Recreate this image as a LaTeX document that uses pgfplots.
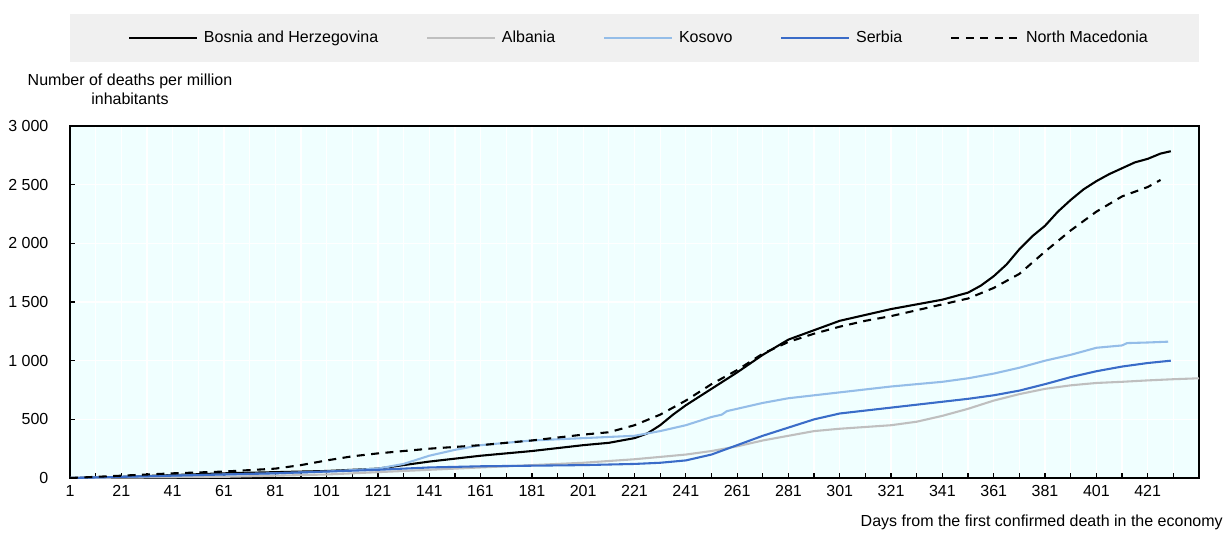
\documentclass[border=0pt]{standalone}
\usepackage{fontspec}
\setmainfont{Liberation Sans}
\usepackage{pgfplots}
\pgfplotsset{compat=1.18}

\definecolor{bgcyan}{RGB}{240,255,255}
\definecolor{legbg}{RGB}{240,240,240}
\definecolor{albgray}{RGB}{191,191,191}
\definecolor{kosblue}{RGB}{148,189,232}
\definecolor{srbblue}{RGB}{58,108,200}

\begin{document}
\begin{tikzpicture}
% grey band behind the legend
\fill[legbg] (0pt,260pt) rectangle (705.6pt,290pt);
\begin{axis}[
    scale only axis,
    width=705.6pt, height=220pt,
    xmin=1, xmax=441, ymin=0, ymax=3000,
    axis background/.style={fill=bgcyan},
    axis line style={line width=1pt},
    tick align=inside,
    xtick pos=bottom, ytick pos=left,
    xtick={1,21,...,421},
    minor xtick={11,31,...,441},
    ytick={0,500,...,3000},
    major tick length=3pt, minor tick length=3pt,
    tick style={black, line width=0.8pt},
    grid=both,
    major grid style={white, line width=0.8pt},
    minor grid style={white, line width=0.8pt},
    font=\fontsize{10}{12}\selectfont,
    /pgf/number format/assume math mode=true,
    /pgf/number format/1000 sep={\ },
    yticklabel style={xshift=-10pt},
    xticklabel style={yshift=-1pt},
    legend columns=5,
    legend style={at={(0.506,1.25)}, anchor=center, draw=none, fill=none,
        font=\fontsize{10}{12}\selectfont,
        nodes={inner xsep=4pt},
        /tikz/every even column/.append style={column sep=26pt}},
    legend image code/.code={\draw[#1] (0pt,0pt) -- (42pt,0pt);},
    every axis plot/.append style={line width=1.3pt, line join=round},
]
\addplot[black] coordinates {
(1,0) (21,10) (41,25) (61,40) (81,50) (101,60) (121,80) (131,110) (141,140)
(151,165) (161,190) (171,210) (181,230) (191,255) (201,280) (211,300) (221,340)
(226,380) (231,450) (236,540) (241,620) (251,760) (261,900) (271,1050) (281,1180)
(291,1260) (301,1340) (311,1390) (321,1440) (331,1480) (341,1520) (351,1580)
(356,1640) (361,1720) (366,1820) (371,1950) (376,2060) (381,2150) (386,2270)
(391,2370) (396,2460) (401,2530) (406,2590) (411,2640) (416,2690) (421,2720)
(426,2765) (430,2785)
};
\addlegendentry{Bosnia and Herzegovina}
\addplot[albgray] coordinates {
(1,0) (31,5) (61,10) (81,20) (101,30) (121,50) (141,70) (161,90) (181,110)
(201,130) (221,160) (241,200) (251,230) (261,270) (271,320) (281,360) (291,400)
(301,420) (311,435) (321,450) (331,480) (341,530) (351,590) (361,660) (371,715)
(381,760) (391,790) (401,810) (411,820) (421,832) (431,842) (441,850)
};
\addlegendentry{Albania}
\addplot[kosblue] coordinates {
(1,0) (21,10) (41,20) (61,30) (81,40) (101,55) (121,80) (131,120) (141,190)
(151,240) (161,280) (171,300) (181,320) (191,330) (201,340) (211,350) (221,360)
(231,400) (241,450) (251,520) (255,540) (257,570) (261,590) (271,640) (281,680)
(291,705) (301,730) (311,755) (321,780) (331,800) (341,820) (351,850) (361,890)
(371,940) (381,1000) (391,1050) (401,1110) (411,1130) (413,1150) (421,1155) (429,1162)
};
\addlegendentry{Kosovo}
\addplot[srbblue] coordinates {
(1,0) (21,10) (41,20) (61,30) (81,40) (101,55) (121,70) (141,90) (161,100)
(181,105) (201,110) (221,120) (231,130) (241,150) (251,200) (261,280) (271,360)
(281,430) (291,500) (301,550) (311,575) (321,600) (331,625) (341,650) (351,675)
(361,705) (371,745) (381,800) (391,860) (401,910) (411,950) (421,980) (430,1000)
};
\addlegendentry{Serbia}
\addplot[black, dash pattern=on 5pt off 4pt] coordinates {
(1,0) (21,20) (41,40) (61,55) (81,80) (91,110) (101,150) (111,185) (121,210)
(141,250) (161,280) (181,320) (201,370) (211,390) (221,450) (231,540) (241,660)
(251,800) (261,920) (271,1060) (281,1160) (291,1230) (301,1290) (311,1340)
(321,1380) (331,1430) (341,1480) (351,1530) (361,1620) (371,1740) (381,1930)
(391,2110) (401,2270) (411,2400) (421,2480) (426,2540)
};
\addlegendentry{North Macedonia}
\end{axis}
\node[align=center, font=\fontsize{10}{11.5}\selectfont] at (37.5pt,243pt)
    {Number of deaths per million\\inhabitants};
\node[anchor=base east, font=\fontsize{10}{12}\selectfont, inner sep=0pt] at (720.6pt,-30.6pt)
    {Days from the first confirmed death in the economy};
\pgfresetboundingbox
\path (-43.75pt,-33.75pt) rectangle (720.6pt,298.75pt);
\end{tikzpicture}
\end{document}
